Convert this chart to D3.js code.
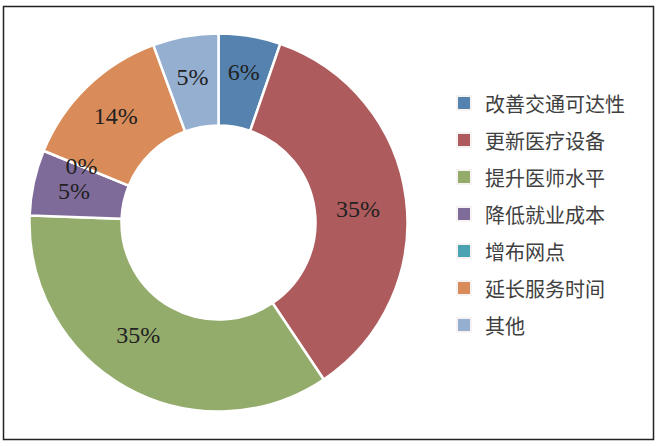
<!DOCTYPE html>
<html>
<head>
<meta charset="utf-8">
<script src="https://cdn.jsdelivr.net/npm/d3@7"></script>
<style>
  body { margin: 0; background: #fff; }
</style>
</head>
<body>
<script>
// data
var categories = ["改善交通可达性", "更新医疗设备", "提升医师水平", "降低就业成本", "增布网点", "延长服务时间", "其他"];
var shares = [5.3, 35.3, 35.0, 5.6, 0, 13.2, 5.6];
var shareLabels = ["6%", "35%", "35%", "5%", "0%", "14%", "5%"];
var colors = ["#5582AF", "#AE5B5D", "#94AC6B", "#7E6B9A", "#4AA2B3", "#D98C59", "#95AFD0"];

var width = 662, height = 446;
var center = { x: 218.5, y: 222.5 };
var outerR = 189, innerR = 97, labelR = 148;
// a few labels were moved by hand in the original (degrees, radius delta)
var labelNudge = { 0: [0, 5], 1: [2, -8], 2: [6.4, -10] };

var svg = d3.select("body").append("svg")
    .attr("width", width)
    .attr("height", height);

svg.append("rect")
    .attr("x", 3.5)
    .attr("y", 6.5)
    .attr("width", 650)
    .attr("height", 433)
    .attr("fill", "#fff")
    .attr("stroke", "#222")
    .attr("stroke-width", 1.5);

var pie = d3.pie().sort(null).value(function(d) { return d; });
var arcs = pie(shares);

var arc = d3.arc().innerRadius(innerR).outerRadius(outerR);

var g = svg.append("g")
    .attr("transform", "translate(" + center.x + "," + center.y + ")");

g.selectAll("path.slice")
    .data(arcs)
    .enter().append("path")
    .attr("class", "slice")
    .attr("d", arc)
    .attr("fill", function(d, i) { return colors[i]; })
    .attr("stroke", "#fff")
    .attr("stroke-width", 2.5)
    .attr("stroke-linejoin", "miter");

function labelPos(d, i) {
    var n = labelNudge[i] || [0, 0];
    var a = (d.startAngle + d.endAngle) / 2 + n[0] * Math.PI / 180;
    var r = labelR + n[1];
    return [Math.sin(a) * r, -Math.cos(a) * r];
}

g.selectAll("text.lbl")
    .data(arcs)
    .enter().append("text")
    .attr("class", "lbl")
    .attr("x", function(d, i) { return labelPos(d, i)[0]; })
    .attr("y", function(d, i) { return labelPos(d, i)[1]; })
    .attr("text-anchor", "middle")
    .attr("dominant-baseline", "central")
    .attr("font-family", "'Liberation Serif', 'Times New Roman', serif")
    .attr("font-size", 24)
    .attr("fill", "#222")
    .text(function(d, i) { return shareLabels[i]; });

// legend
var legendY = d3.scalePoint()
    .domain(categories)
    .range([103, 325]);

var legend = svg.append("g");

var items = legend.selectAll("g.item")
    .data(categories)
    .enter().append("g")
    .attr("class", "item")
    .attr("transform", function(d) { return "translate(458," + legendY(d) + ")"; });

items.append("rect")
    .attr("x", -2)
    .attr("y", -8)
    .attr("width", 16)
    .attr("height", 16)
    .attr("fill", "#f7f3f2");

items.append("rect")
    .attr("x", 0)
    .attr("y", -6)
    .attr("width", 12)
    .attr("height", 12)
    .attr("fill", function(d, i) { return colors[i]; });

items.append("text")
    .attr("x", 27)
    .attr("y", 0)
    .attr("dominant-baseline", "central")
    .attr("font-family", "'Noto Sans CJK SC', sans-serif")
    .attr("font-size", 20)
    .attr("fill", "#404040")
    .text(function(d) { return d; });
</script>
</body>
</html>
